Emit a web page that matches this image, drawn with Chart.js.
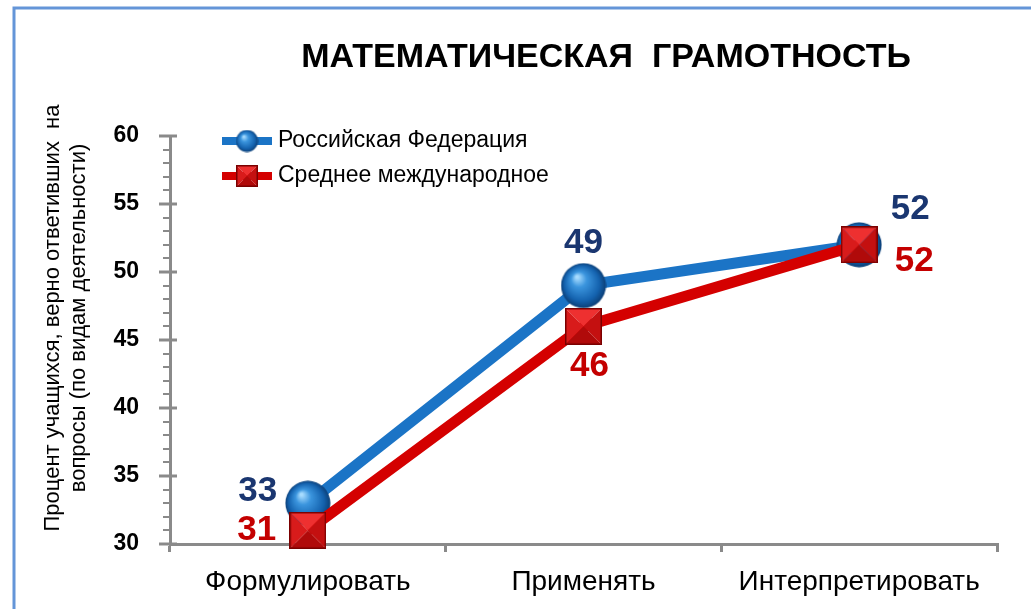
<!DOCTYPE html>
<html lang="ru">
<head>
<meta charset="utf-8">
<title>Математическая грамотность</title>
<script src="https://cdn.jsdelivr.net/npm/chart.js@4/dist/chart.umd.min.js"></script>
<style>
body {margin: 0; background: #fff;}
#zone {position: relative; width: 1031px; height: 609px;}
</style>
</head>
<body>
<div id="zone"><canvas id="graph"></canvas></div>
<script>
// donnees
var categories = ['Формулировать', 'Применять', 'Интерпретировать'];
var russie = [33, 49, 52];
var international = [31, 46, 52];
var nomsSeries = ['Российская Федерация', 'Среднее международное'];
var graduationsY = [30, 35, 40, 45, 50, 55, 60];

var POLICE = "'Liberation Sans', Arial, sans-serif";
var BLEU = '#1b74c6';
var ROUGE = '#d40000';
var GRIS = '#8a8a8a';

// marqueur "sphere" bleue
function sphere(d) {
	var c = document.createElement('canvas');
	c.width = d; c.height = d;
	var g = c.getContext('2d');
	var r = d / 2;
	var grad = g.createRadialGradient(r * 0.72, r * 0.62, r * 0.05, r, r, r);
	grad.addColorStop(0, '#a8dcff');
	grad.addColorStop(0.3, '#3b95de');
	grad.addColorStop(0.75, '#1462ae');
	grad.addColorStop(1, '#0b3c72');
	g.fillStyle = grad;
	g.beginPath();
	g.arc(r, r, r - 0.5, 0, Math.PI * 2);
	g.fill();
	return c;
}

// marqueur "carre" rouge facon pyramide
function carre(d) {
	var c = document.createElement('canvas');
	c.width = d; c.height = d;
	var g = c.getContext('2d');
	var m = d / 2;
	var faces = [
		['#ee3030', [0, 0], [d, 0]],
		['#d81b1b', [0, 0], [0, d]],
		['#c41010', [d, 0], [d, d]],
		['#b00a0a', [0, d], [d, d]]
	];
	for (var i = 0; i < faces.length; i++) {
		g.fillStyle = faces[i][0];
		g.beginPath();
		g.moveTo(m, m);
		g.lineTo(faces[i][1][0], faces[i][1][1]);
		g.lineTo(faces[i][2][0], faces[i][2][1]);
		g.closePath();
		g.fill();
	}
	g.strokeStyle = '#7a0000';
	g.lineWidth = 1.5;
	g.strokeRect(0.75, 0.75, d - 1.5, d - 1.5);
	return c;
}

var sphereGrande = sphere(46), carreGrand = carre(37);
var sphereLegende = sphere(23), carreLegende = carre(22);

/// cadre bleu autour
const cadrePlugin = {
	id: 'cadre',
	beforeDraw(chart) {
		var ctx = chart.ctx;
		ctx.save();
		ctx.fillStyle = '#fff';
		ctx.fillRect(0, 0, chart.width, chart.height);
		ctx.strokeStyle = '#6495d8';
		ctx.lineWidth = 3;
		ctx.beginPath();
		ctx.moveTo(14, chart.height + 5);
		ctx.lineTo(14, 8);
		ctx.lineTo(chart.width + 5, 8);
		ctx.stroke();
		ctx.restore();
	}
};

/// titre et titre de l'axe vertical
const titresPlugin = {
	id: 'titres',
	afterDraw(chart) {
		var ctx = chart.ctx;
		ctx.save();
		ctx.fillStyle = '#000';
		ctx.textAlign = 'center';
		ctx.textBaseline = 'middle';
		ctx.font = 'bold 34px ' + POLICE;
		ctx.fillText('МАТЕМАТИЧЕСКАЯ  ГРАМОТНОСТЬ', 606, 58);

		ctx.translate(0, 318);
		ctx.rotate(-Math.PI / 2);
		ctx.font = '22px ' + POLICE;
		ctx.textBaseline = 'alphabetic';
		ctx.fillText('Процент учащихся, верно ответивших  на', 0, 59);
		ctx.fillText('вопросы (по видам деятельности)', 0, 85);
		ctx.restore();
	}
};

/// grandes graduations de l'axe Y (les petites sont faites par chart.js)
const graduationsPlugin = {
	id: 'graduations',
	afterDraw(chart) {
		var y = chart.scales.y;
		var ctx = chart.ctx;
		ctx.save();
		ctx.strokeStyle = GRIS;
		ctx.lineWidth = 3;
		for (var i = 0; i < graduationsY.length; i++) {
			var py = y.getPixelForValue(graduationsY[i]);
			ctx.beginPath();
			ctx.moveTo(y.right - 11, py);
			ctx.lineTo(y.right + 7, py);
			ctx.stroke();
		}
		ctx.restore();
	}
};

/// valeurs ecrites a cote des points
const etiquettesPlugin = {
	id: 'etiquettes',
	afterDatasetsDraw(chart, args, options) {
		var ctx = chart.ctx;
		ctx.save();
		ctx.font = 'bold 35px ' + POLICE;
		ctx.textAlign = 'center';
		ctx.textBaseline = 'middle';
		chart.data.datasets.forEach(function (ds, d) {
			var meta = chart.getDatasetMeta(d);
			ctx.fillStyle = options.couleurs[d];
			meta.data.forEach(function (pt, i) {
				var dec = options.decalages[d][i];
				ctx.fillText(ds.data[i], pt.x + dec[0], pt.y + dec[1]);
			});
		});
		ctx.restore();
	}
};

/// legende : trait epais + marqueur
const legendePlugin = {
	id: 'legende',
	afterDraw(chart) {
		var ctx = chart.ctx;
		var lignes = [[BLEU, sphereLegende, 141], [ROUGE, carreLegende, 176]];
		ctx.save();
		ctx.font = '23px ' + POLICE;
		ctx.textBaseline = 'middle';
		for (var i = 0; i < lignes.length; i++) {
			var yy = lignes[i][2];
			ctx.fillStyle = lignes[i][0];
			ctx.fillRect(222, yy - 4, 50, 8);
			var img = lignes[i][1];
			ctx.drawImage(img, 247 - img.width / 2, yy - img.height / 2);
			ctx.fillStyle = '#000';
			ctx.fillText(nomsSeries[i], 278, yy);
		}
		ctx.restore();
	}
};

var ctx = document.getElementById('graph').getContext('2d');
var graphique = new Chart(ctx, {
	type: 'line',
	data: {
		labels: categories,
		datasets: [{
			label: nomsSeries[0],
			data: russie,
			borderColor: BLEU,
			backgroundColor: BLEU,
			borderWidth: 11,
			pointStyle: sphereGrande,
			pointRadius: 23,
			order: 1,
			clip: false
		}, {
			label: nomsSeries[1],
			data: international,
			borderColor: ROUGE,
			backgroundColor: ROUGE,
			borderWidth: 11,
			pointStyle: carreGrand,
			pointRadius: 18,
			order: 0,
			clip: false
		}]
	},
	options: {
		responsive: true,
		maintainAspectRatio: false,
		animation: false,
		layout: {padding: {top: 136, right: 31, left: 0, bottom: 0}},
		scales: {
			x: {
				offset: true,
				afterFit: function (s) { s.height = 65; },
				grid: {offset: true, drawOnChartArea: false, color: GRIS, lineWidth: 3, tickLength: 8},
				border: {color: GRIS, width: 3},
				ticks: {color: '#000', padding: 13, font: {family: POLICE, size: 28}}
			},
			y: {
				min: graduationsY[0],
				max: graduationsY[graduationsY.length - 1],
				afterFit: function (s) { s.width = 170; },
				grid: {drawOnChartArea: false, color: GRIS, lineWidth: 2, tickLength: 7},
				border: {color: GRIS, width: 3},
				ticks: {
					stepSize: 1,
					autoSkip: false,
					color: '#000',
					padding: 24,
					font: {family: POLICE, size: 23, weight: 'bold'},
					callback: function (v) { return v % 5 === 0 ? v : ''; }
				}
			}
		},
		plugins: {
			legend: {display: false},
			title: {display: false},
			tooltip: {enabled: false},
			etiquettes: {
				couleurs: ['#1a3670', '#c40000'],
				decalages: [[[-50, -12], [0, -42], [51, -35]], [[-51, 0], [6, 40], [55, 17]]]
			}
		}
	},
	plugins: [cadrePlugin, titresPlugin, graduationsPlugin, etiquettesPlugin, legendePlugin]
});
</script>
</body>
</html>
